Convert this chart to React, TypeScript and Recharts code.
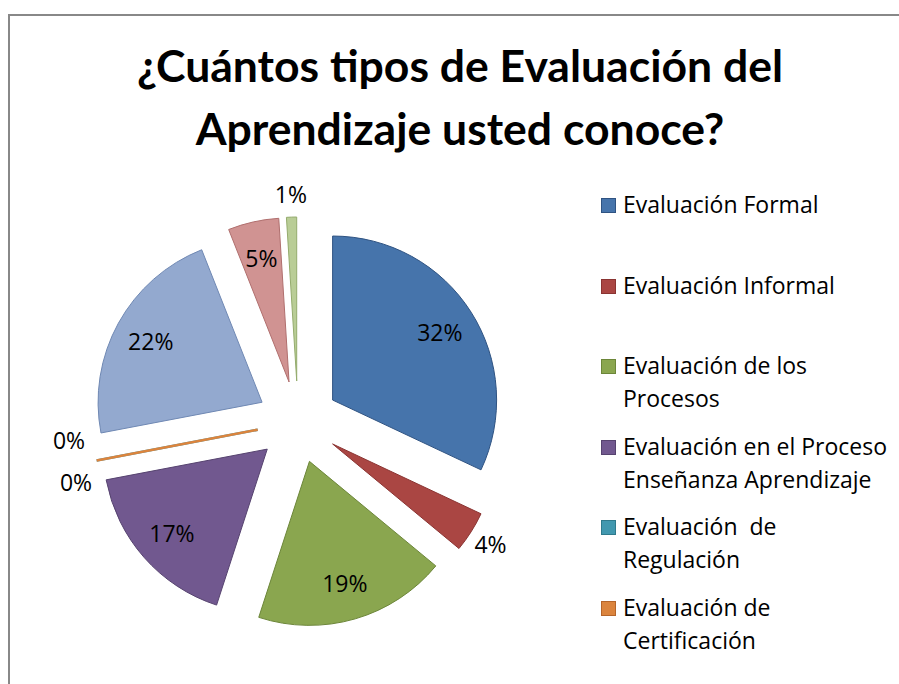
import { Legend, Pie, PieChart, Sector } from "recharts";

const titleLines = ["¿Cuántos tipos de Evaluación del", "Aprendizaje usted conoce?"];

const categories = [
  "Evaluación Formal",
  "Evaluación Informal",
  "Evaluación de los Procesos",
  "Evaluación en el Proceso Enseñanza Aprendizaje",
  "Evaluación de Regulación",
  "Evaluación de Certificación",
  "Categoría 7",
  "Categoría 8",
  "Categoría 9",
];
const shares = [32, 4, 19, 17, 0, 0, 22, 5, 1];

// only the first six entries fit in the legend box
const legendLines = [
  ["Evaluación Formal"],
  ["Evaluación Informal"],
  ["Evaluación de los", "Procesos"],
  ["Evaluación en el Proceso", "Enseñanza Aprendizaje"],
  ["Evaluación  de", "Regulación"],
  ["Evaluación de", "Certificación"],
];

const fills = ["#4674ab", "#aa4643", "#8aa64f", "#71588f", "#4198af", "#db843d", "#93a9cf", "#d09392", "#b9cd96"];
const strokes = ["#2f5382", "#8a3432", "#6c8639", "#56436f", "#2f7a8c", "#b5652a", "#6f88b3", "#b06f6e", "#94ab6d"];

const pieData = categories.map((name, i) => ({ name, value: shares[i] }));

const RAD = Math.PI / 180;
const EXPLODE = 41;
const polar = (cx: number, cy: number, r: number, angle: number) => ({
  x: cx + r * Math.cos(-angle * RAD),
  y: cy + r * Math.sin(-angle * RAD),
});

// each slice is pulled out along its mid angle and drawn here with its own label
function renderSlice(props: any) {
  const { cx, cy, outerRadius, startAngle, endAngle, midAngle, percent, index } = props;
  const apex = polar(cx, cy, EXPLODE, midAngle);
  const pct = Math.round(percent * 100);
  let text = polar(apex.x, apex.y, pct < 5 ? 187 : 127, midAngle);
  if (pct === 0) text = polar(apex.x, apex.y, 189, midAngle + (index === 4 ? -7.8 : 5.2));
  const tip = polar(apex.x, apex.y, outerRadius, midAngle);
  return (
    <g key={`slice-${index}`}>
      {pct === 0 ? (
        <line x1={apex.x} y1={apex.y} x2={tip.x} y2={tip.y} stroke={fills[index]} strokeWidth={2.5} />
      ) : (
        <Sector
          cx={apex.x}
          cy={apex.y}
          innerRadius={0}
          outerRadius={outerRadius}
          startAngle={startAngle}
          endAngle={endAngle}
          fill={fills[index]}
          stroke={strokes[index]}
          strokeWidth={1}
        />
      )}
      <text x={text.x} y={text.y} textAnchor="middle" dominantBaseline="central" fontSize={23} fill="#000" fontFamily="'Open Sans', sans-serif">
        {`${pct}%`}
      </text>
    </g>
  );
}

function LegendBox() {
  return (
    <div style={{ position: "relative", width: 300, height: 480, fontFamily: "'Open Sans', sans-serif", fontSize: 23, lineHeight: "33px", color: "#000" }}>
      {legendLines.map((lines, i) => (
        <div key={i} style={{ position: "absolute", left: 0, top: i * 80.5, width: 300 }}>
          <div
            style={{
              position: "absolute",
              left: 6,
              top: 10,
              width: 13,
              height: 13,
              background: fills[i],
              border: `1px solid ${strokes[i]}`,
            }}
          />
          <div style={{ position: "absolute", left: 28, top: 0, whiteSpace: "pre" }}>
            {lines.map((l, j) => (
              <div key={j}>{l}</div>
            ))}
          </div>
        </div>
      ))}
    </div>
  );
}

export default function App() {
  return (
    <div style={{ position: "relative", width: 899, height: 684, overflow: "hidden", background: "#fff" }}>
      <style>{"body{margin:0;overflow:hidden}"}</style>
      <div
        style={{
          position: "absolute",
          left: 8,
          top: 14,
          width: 900,
          height: 700,
          borderLeft: "2px solid #888",
          borderTop: "2px solid #888",
        }}
      />
      <div
        style={{
          position: "absolute",
          left: 60,
          top: 33,
          width: 800,
          textAlign: "center",
          fontFamily: "Lato, sans-serif",
          fontWeight: 700,
          fontSize: 44.5,
          lineHeight: "63px",
          color: "#000",
        }}
      >
        {titleLines.map((t, i) => (
          <div key={i}>{t}</div>
        ))}
      </div>
      <div style={{ position: "absolute", left: 0, top: 0 }}>
        <PieChart width={899} height={684} margin={{ top: 0, right: 0, bottom: 0, left: 0 }}>
          <Pie
            data={pieData}
            dataKey="value"
            nameKey="name"
            cx={298}
            cy={422}
            outerRadius={164}
            startAngle={90}
            endAngle={-270}
            fill="none"
            stroke="none"
            label={renderSlice}
            labelLine={false}
            isAnimationActive={false}
          />
          <Legend
            layout="vertical"
            align="right"
            verticalAlign="top"
            wrapperStyle={{ left: 595, top: 188, width: 300, height: 480 }}
            content={() => <LegendBox />}
          />
        </PieChart>
      </div>
    </div>
  );
}
